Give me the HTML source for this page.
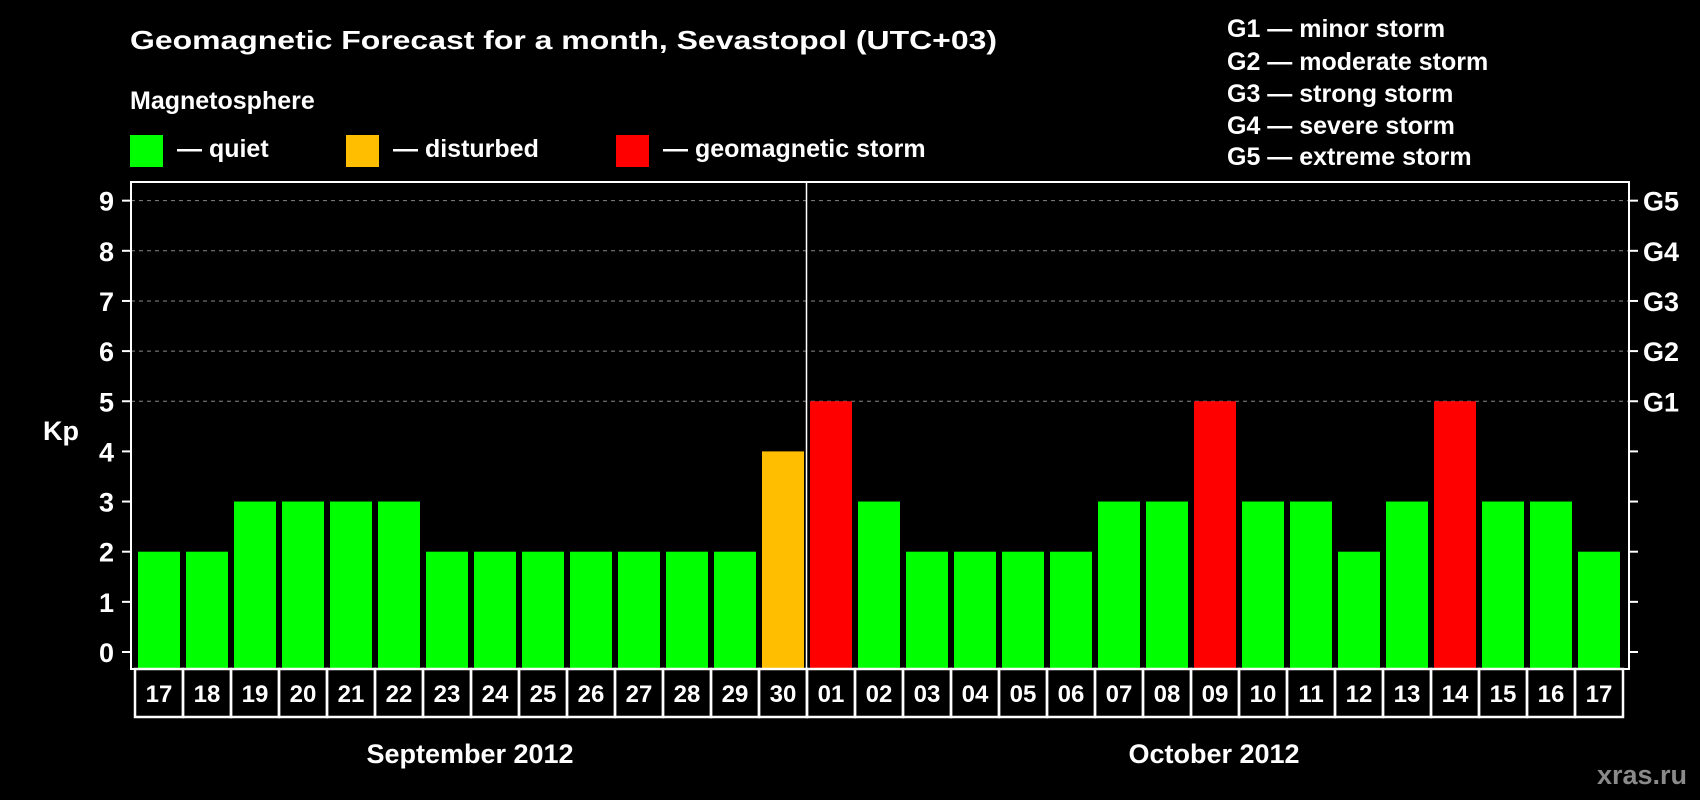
<!DOCTYPE html>
<html><head><meta charset="utf-8"><style>
html,body{margin:0;padding:0;background:#000;}
svg{display:block;font-family:"Liberation Sans",Arial,sans-serif;font-weight:bold;}
</style></head><body>
<svg id="chart" width="1700" height="800" viewBox="0 0 1700 800" xmlns="http://www.w3.org/2000/svg">
<rect width="1700" height="800" fill="#000"/>
<text x="130" y="49" fill="#fff" font-size="26" textLength="867" lengthAdjust="spacingAndGlyphs">Geomagnetic Forecast for a month, Sevastopol (UTC+03)</text>
<text x="130" y="109" fill="#fff" font-size="25">Magnetosphere</text>
<g><rect x="130" y="135" width="33" height="32" fill="#00ff00"/><text x="177" y="157" fill="#fff" font-size="25">— quiet</text></g>
<g><rect x="346" y="135" width="33" height="32" fill="#ffbf00"/><text x="393" y="157" fill="#fff" font-size="25">— disturbed</text></g>
<g><rect x="616" y="135" width="33" height="32" fill="#ff0000"/><text x="663" y="157" fill="#fff" font-size="25">— geomagnetic storm</text></g>
<g fill="#fff" font-size="25">
<text x="1227" y="37">G1 — minor storm</text>
<text x="1227" y="70">G2 — moderate storm</text>
<text x="1227" y="102">G3 — strong storm</text>
<text x="1227" y="134">G4 — severe storm</text>
<text x="1227" y="165">G5 — extreme storm</text>
</g>
<text x="43" y="440" fill="#fff" font-size="27">Kp</text>
<g id="grid"></g>
<g id="bars"></g>
<g id="axes"></g>
<text x="470" y="763" fill="#fff" font-size="27" text-anchor="middle">September 2012</text>
<text x="1214" y="763" fill="#fff" font-size="27" text-anchor="middle">October 2012</text>
<text x="1687" y="784" fill="#8a8a8a" font-size="27" text-anchor="end">xras.ru</text>
</svg>
<script>
const days = ["17","18","19","20","21","22","23","24","25","26","27","28","29","30","01","02","03","04","05","06","07","08","09","10","11","12","13","14","15","16","17"];
const kpValues = [2,2,3,3,3,3,2,2,2,2,2,2,2,4,5,3,2,2,2,2,3,3,5,3,3,2,3,5,3,3,2];
const yTicks = [0,1,2,3,4,5,6,7,8,9];
const stormLabels = ["G1","G2","G3","G4","G5"];
const stormLevels = [5,6,7,8,9];

const NS = "http://www.w3.org/2000/svg";
const plotL = 131, plotR = 1629, plotT = 182, plotB = 669;
const slot0 = 135, pitch = 48, barW = 42, barOff = 3;
function y(v){ return 652 - v * 50.15; }
function x(i){ return slot0 + i * pitch; }
function mk(tag, attrs, parent){ const e = document.createElementNS(NS, tag); for (const k in attrs) e.setAttribute(k, attrs[k]); parent.appendChild(e); return e; }
const grid = document.getElementById('grid'), bars = document.getElementById('bars'), axes = document.getElementById('axes');

stormLevels.forEach((lv, i) => {
  const l = mk('line', {x1: plotL, x2: plotR, y1: y(lv), y2: y(lv), stroke: '#888', 'stroke-width': 1, 'stroke-dasharray': '4,4'}, grid);
  
  
  const t = mk('text', {x: 1643, y: y(lv) + 10, fill: '#fff', 'font-size': 27}, axes);
  t.textContent = stormLabels[i];
  
  
});

kpValues.forEach((v, i) => {
  const col = v >= 5 ? '#ff0000' : (v >= 4 ? '#ffbf00' : '#00ff00');
  const r = mk('rect', {x: x(i) + barOff, y: y(v), width: barW, height: plotB - y(v), fill: col}, bars);
  
  
  const b = mk('rect', {x: x(i), y: plotB, width: pitch, height: 48, fill: 'none', stroke: '#fff', 'stroke-width': 2.5}, axes);
  
  
  const t = mk('text', {x: x(i) + pitch / 2, y: plotB + 33, fill: '#fff', 'font-size': 24, 'text-anchor': 'middle'}, axes);
  t.textContent = days[i];
  
  
});

yTicks.forEach(v => {
  const t = mk('line', {x1: plotL - 9, x2: plotL, y1: y(v), y2: y(v), stroke: '#fff', 'stroke-width': 2}, axes);
  
  
  const t2 = mk('line', {x1: plotR, x2: plotR + 9, y1: y(v), y2: y(v), stroke: '#fff', 'stroke-width': 2}, axes);
  
  
  const lab = mk('text', {x: 114, y: y(v) + 10, fill: '#fff', 'font-size': 27, 'text-anchor': 'end'}, axes);
  lab.textContent = v;
  
  
});

const frame = mk('rect', {x: plotL, y: plotT, width: plotR - plotL, height: plotB - plotT, fill: 'none', stroke: '#fff', 'stroke-width': 2}, axes);


const sepX = x(14) - 0.5;
const sep = mk('line', {x1: sepX, x2: sepX, y1: plotT, y2: plotB + 48, stroke: '#fff', 'stroke-width': 1.5}, axes);


</script>
</body></html>
